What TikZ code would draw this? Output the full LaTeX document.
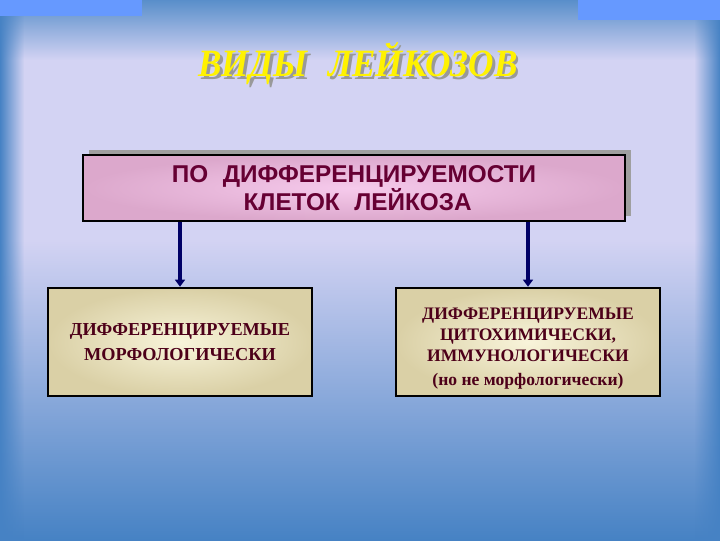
\documentclass[tikz,border=0pt]{standalone}
\usepackage{fontspec}
\setmainfont{Liberation Serif}
\newfontfamily\arialfont{Liberation Sans}
\usetikzlibrary{arrows.meta,shadows,fadings}
\definecolor{bgblue}{HTML}{4682C4}
\definecolor{bglav}{HTML}{D3D3F3}
\definecolor{cornerblue}{HTML}{6699FF}
\definecolor{maroon}{HTML}{660033}
\definecolor{darkmaroon}{HTML}{4D0019}
\definecolor{navy}{HTML}{000066}
\newcommand{\shadowtext}[1]{\makebox[0pt][l]{\hspace{2pt}\raisebox{-2pt}{\color{gray!80}#1}}#1}
\newcommand{\widegap}{\hspace{0.6em}}
\tikzset{
topbox/.style={draw=black, line width=1.6pt, inner color={rgb,255:red,246;green,202;blue,236},
	outer color={rgb,255:red,220;green,168;blue,204}, minimum width=13.55cm, minimum height=1.65cm,
	align=center, text=maroon, font=\arialfont\bfseries\fontsize{17.3}{19.5}\selectfont,
	drop shadow={shadow xshift=0.15cm, shadow yshift=0.13cm, fill=gray!75, opacity=1}},
kindbox/.style={draw=black, line width=1.8pt, inner color={rgb,255:red,248;green,244;blue,218},
	outer color={rgb,255:red,218;green,208;blue,166}, minimum width=6.6cm, minimum height=2.7cm,
	align=center, text=darkmaroon, font=\bfseries\fontsize{13}{15}\selectfont},
down arrow/.style={navy, line width=2.2pt, -{Triangle[width=7pt,length=5pt]}}
}
\begin{document}
\begin{tikzpicture}[x=0.025cm, y=-0.025cm]
	% background
	\useasboundingbox (0,0) rectangle (720,540);
	\shade[top color=bgblue!90!white, bottom color=bglav] (0,0) rectangle (720,60);
	\fill[bglav] (0,60) rectangle (720,240);
	\shade[top color=bglav, bottom color=bgblue] (0,240) rectangle (720,540);
	\fill[bgblue, path fading=east] (0,0) rectangle (24,540);
	\fill[bgblue, path fading=west] (694,0) rectangle (720,540);
	\fill[cornerblue] (0,0) rectangle (142,16);
	\fill[cornerblue] (578,0) rectangle (720,20);
	% title
	\node[text=yellow, font=\bfseries\itshape\fontsize{25}{28}\selectfont, yscale=1.1] (title) at (358,65)
		{\shadowtext{ВИДЫ\widegap ЛЕЙКОЗОВ}};
	% boxes
	\node[topbox] (criterion) at (354,188) {ПО\widegap ДИФФЕРЕНЦИРУЕМОСТИ\hspace{0.3em}\\\hspace{0.3em}КЛЕТОК\widegap ЛЕЙКОЗА};
	\node[kindbox, font=\bfseries\fontsize{13}{18}\selectfont] (morph) at (180,342) {ДИФФЕРЕНЦИРУЕМЫЕ\\МОРФОЛОГИЧЕСКИ};
	\node[kindbox, font=\bfseries\fontsize{12.5}{15}\selectfont] (immun) at (528,342)
		{\rule{0pt}{17pt}ДИФФЕРЕНЦИРУЕМЫЕ\\ЦИТОХИМИЧЕСКИ,\\ИММУНОЛОГИЧЕСКИ\\[2pt](но не морфологически)};
	% arrows
	\draw[down arrow] (criterion.south -| morph.north) -- (morph.north);
	\draw[down arrow] (criterion.south -| immun.north) -- (immun.north);
\end{tikzpicture}
\end{document}
